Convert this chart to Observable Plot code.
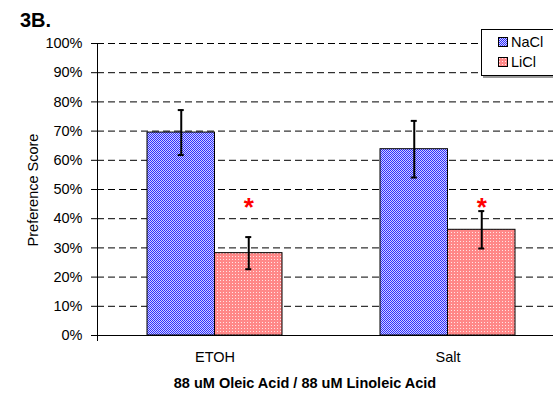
<!DOCTYPE html>
<html>
<head>
<meta charset="utf-8">
<script src="https://cdn.jsdelivr.net/npm/d3@7"></script>
<script src="https://cdn.jsdelivr.net/npm/@observablehq/plot@0.6"></script>
<style>
  html, body { margin: 0; padding: 0; background: #fff; }
  #wrap { position: relative; width: 553px; height: 393px; overflow: hidden; font-family: "Liberation Sans", Arial, sans-serif; }
  #panel { position: absolute; left: 20px; top: 9px; font-size: 20px; font-weight: bold; }
  #ytitle { position: absolute; left: 33px; top: 190px; font-size: 14.5px; transform: translate(-50%, -50%) rotate(-90deg); white-space: nowrap; }
  #xtitle { position: absolute; left: 305px; top: 375px; font-size: 14.5px; font-weight: bold; transform: translateX(-50%); white-space: nowrap; }
  #legend { position: absolute; left: 481px; top: 29px; width: 80px; height: 45px; border: 1px solid #000; background: #fff; box-shadow: 2px 2px 0 #999; font-size: 14.5px; }
  .item { position: absolute; left: 16px; display: flex; align-items: center; }
  .item svg { margin-right: 3px; }
</style>
</head>
<body>
<svg width="0" height="0" style="position:absolute">
  <defs>
    <pattern id="pat-NaCl" width="2" height="2" patternUnits="userSpaceOnUse">
      <rect width="2" height="2" fill="#d0d0ff"/>
      <rect x="0" y="0" width="1" height="1" fill="#2f2fff"/>
      <rect x="1" y="1" width="1" height="1" fill="#2f2fff"/>
    </pattern>
    <pattern id="pat-LiCl" width="3" height="3" patternUnits="userSpaceOnUse">
      <rect width="3" height="3" fill="#ff8888"/>
      <rect x="1" y="1" width="1" height="1" fill="#ffe4e4"/>
    </pattern>
  </defs>
</svg>
<div id="wrap">
  <div id="chart"></div>
  <div id="panel">3B.</div>
  <div id="ytitle">Preference Score</div>
  <div id="xtitle">88 uM Oleic Acid / 88 uM Linoleic Acid</div>
  <div id="legend"></div>
</div>
<script>
// ---- data ----
const categories = ["ETOH", "Salt"];
const series = ["NaCl", "LiCl"];
const naclValues = [0.695, 0.638];
const naclErrors = [0.077, 0.097];
const liclValues = [0.282, 0.362];
const liclErrors = [0.055, 0.064];
const liclStarY = [0.46, 0.46];       // red significance asterisks above LiCl bars
const yTicks = [0, 0.1, 0.2, 0.3, 0.4, 0.5, 0.6, 0.7, 0.8, 0.9, 1.0];
const gridTicks = yTicks.slice(1);

// ---- table built from arrays ----
const rows = [];
categories.forEach((c, i) => {
  rows.push({category: c, series: "NaCl", value: naclValues[i], err: naclErrors[i]});
  rows.push({category: c, series: "LiCl", value: liclValues[i], err: liclErrors[i], star: liclStarY[i]});
});
const nacl = rows.filter(d => d.series === "NaCl");
const licl = rows.filter(d => d.series === "LiCl");
const stars = licl.filter(d => d.star != null);

// layout styles
const half = 67.5;          // half of the group width = one bar width
const capHalf = 3;
const fill = s => `url(#pat-${s})`;

const chart = Plot.plot({
  width: 553,
  height: 393,
  marginLeft: 97,
  marginRight: 0,
  marginTop: 43,
  marginBottom: 58,
  style: {fontFamily: "Liberation Sans, Arial, sans-serif", fontSize: "14.5px", color: "#000", background: "transparent"},
  x: {domain: categories, range: [97, 564], paddingInner: 0.422, paddingOuter: 0.211, label: null},
  y: {domain: [0, 1], label: null},
  marks: [
    Plot.gridY(gridTicks, {stroke: "#000", strokeOpacity: 1, strokeDasharray: "7,4"}),
    Plot.barY(nacl, {x: "category", y: "value", fill: fill("NaCl"), stroke: "#000", strokeWidth: 1, insetLeft: 0, insetRight: half}),
    Plot.barY(licl, {x: "category", y: "value", fill: fill("LiCl"), stroke: "#000", strokeWidth: 1, insetLeft: half, insetRight: 0}),
    // error bars
    Plot.ruleX(nacl, {x: "category", y1: d => d.value - d.err, y2: d => d.value + d.err, stroke: "#000", strokeWidth: 2, dx: -half / 2}),
    Plot.ruleX(licl, {x: "category", y1: d => d.value - d.err, y2: d => d.value + d.err, stroke: "#000", strokeWidth: 2, dx: half / 2}),
    Plot.tickY(nacl, {x: "category", y: d => d.value + d.err, stroke: "#000", strokeWidth: 2, insetLeft: half / 2 - capHalf, insetRight: half + half / 2 - capHalf}),
    Plot.tickY(nacl, {x: "category", y: d => d.value - d.err, stroke: "#000", strokeWidth: 2, insetLeft: half / 2 - capHalf, insetRight: half + half / 2 - capHalf}),
    Plot.tickY(licl, {x: "category", y: d => d.value + d.err, stroke: "#000", strokeWidth: 2, insetLeft: half + half / 2 - capHalf, insetRight: half / 2 - capHalf}),
    Plot.tickY(licl, {x: "category", y: d => d.value - d.err, stroke: "#000", strokeWidth: 2, insetLeft: half + half / 2 - capHalf, insetRight: half / 2 - capHalf}),
    // significance stars
    Plot.text(stars, {x: "category", y: "star", text: () => "*", fill: "#ff0000", fontSize: 26, fontWeight: "bold", dx: half / 2, dy: 6}),
    // axes
    Plot.axisY(yTicks, {tickFormat: d3.format(".0%"), tickSize: 6, tickPadding: 9, stroke: "#000", fontSize: 14.5}),
    Plot.axisX({tickSize: 0, tickPadding: 16, fontSize: 14.5, label: null}),
    Plot.frame({anchor: "left", stroke: "#000", insetBottom: -5}),
    Plot.frame({anchor: "bottom", stroke: "#000"})
  ]
});
document.getElementById("chart").appendChild(chart);

// legend from series names
const legend = document.getElementById("legend");
series.forEach((s, i) => {
  const item = document.createElement("div");
  item.className = "item";
  item.style.top = (4 + i * 20) + "px";
  item.innerHTML = `<svg width="10" height="10"><rect x="0.5" y="0.5" width="9" height="9" fill="${fill(s)}" stroke="#000" stroke-width="1"/></svg><span>${s}</span>`;
  legend.appendChild(item);
});
</script>
</body>
</html>
